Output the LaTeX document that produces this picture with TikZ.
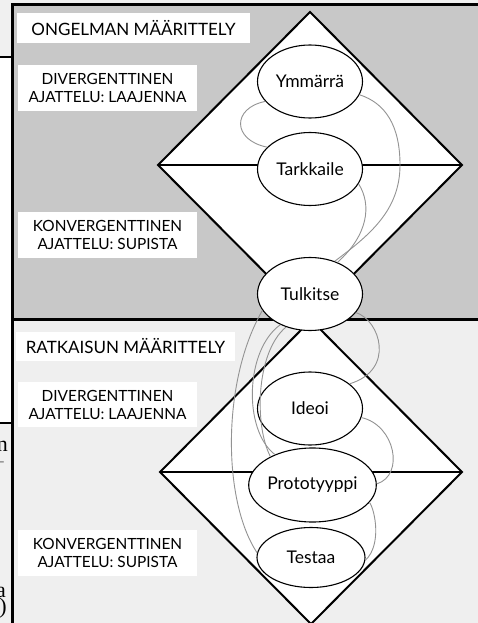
\documentclass[tikz,border=0pt]{standalone}
\usepackage{fontspec}
\setmainfont{Lato}
\newfontfamily\pageserif{Liberation Serif}
\usetikzlibrary{shapes.geometric}

\definecolor{upperpanel}{HTML}{C8C8C8}
\definecolor{lowerpanel}{HTML}{EFEFEF}
\definecolor{sheet}{HTML}{F0F0F0}
\definecolor{loopline}{HTML}{939393}

\begin{document}
\begin{tikzpicture}[x=1pt,y=-1pt,
  stage/.style={ellipse, draw=black, line width=1.1pt, fill=white,
    minimum width=105pt, minimum height=73pt, inner sep=0pt,
    font=\fontsize{17.5}{19}\selectfont},
  tagbox/.style={fill=white, inner sep=0pt, align=center,
    font=\fontsize{15.4}{18}\selectfont},
  headbox/.style={fill=white, inner sep=0pt, align=center,
    font=\fontsize{17}{19}\selectfont},
  loop/.style={draw=loopline, line width=0.9pt},
  diamondedge/.style={draw=black, line width=2pt, line join=miter},
  frameline/.style={draw=black, line width=3pt},
  sideline/.style={draw=black, line width=2pt},
  pagetext/.style={anchor=base east, inner sep=0pt,
    font=\pageserif\fontsize{22}{24}\selectfont}]

\useasboundingbox (0,0) rectangle (478,623);

% page background and the two phase panels
\fill[sheet] (0,0) rectangle (478,623);
\fill[white] (0,57) rectangle (12,423);
\fill[upperpanel] (12,5) rectangle (478,319);
\fill[lowerpanel] (12,319) rectangle (478,623);

% edge of the neighbouring column
\draw[sideline] (0,57) -- (12,57);
\draw[sideline] (0,423) -- (12,423);
\begin{scope}
  \clip (0,425) rectangle (11,623);
  \node[pagetext] (pn) at (8,451) {n};
  \node[pagetext, text=black!40] (ph) at (5,467) {-};
  \node[pagetext] (pa) at (6,597) {a};
  \node[pagetext] (pp) at (7,613) {)};
\end{scope}

% diamonds: diverge above the middle line, converge below it
\draw[diamondedge, fill=white] (310,12) -- (462,165) -- (310,318) -- (158,165) -- cycle;
\draw[diamondedge] (158,165) -- (462,165);
\draw[diamondedge, fill=white] (311,320) -- (462,472) -- (311,624) -- (160,472) -- cycle;
\draw[diamondedge] (160,472) -- (462,472);

% panel frame
\draw[frameline] (478,5) -- (12,5) -- (12,623);
\draw[frameline] (12,319) -- (478,319);

% phase and mode labels
\node[headbox, minimum width=233pt, minimum height=30pt] (probhead) at (133.5,28) {ONGELMAN MÄÄRITTELY};
\node[tagbox, minimum width=179pt, minimum height=46pt] (div1) at (107.5,88) {DIVERGENTTINEN\\AJATTELU: LAAJENNA};
\node[tagbox, minimum width=179pt, minimum height=46pt] (conv1) at (107.5,235) {KONVERGENTTINEN\\AJATTELU: SUPISTA};
\node[headbox, minimum width=219pt, minimum height=29pt] (solhead) at (125.5,346.5) {RATKAISUN MÄÄRITTELY};
\node[tagbox, minimum width=179pt, minimum height=45pt] (div2) at (107.5,404.5) {DIVERGENTTINEN\\AJATTELU: LAAJENNA};
\node[tagbox, minimum width=179pt, minimum height=46pt] (conv2) at (107.5,553) {KONVERGENTTINEN\\AJATTELU: SUPISTA};

% stages
\node[stage] (ymm) at (310,81.5) {Ymmärrä};
\node[stage] (tark) at (310,169) {Tarkkaile};
\node[stage] (tulk) at (310,294) {Tulkitse};
\node[stage] (ideo) at (310,408.5) {Ideoi};
\node[stage, minimum width=107pt, minimum height=74pt] (proto) at (312.5,485) {Prototyyppi};
\node[stage, minimum width=108pt, minimum height=60pt] (test) at (311,557.5) {Testaa};

% iteration loops between stages
\draw[loop] (ymm.204) .. controls (232,108) and (232,140) .. (tark.153);
\draw[loop] (ymm.345) .. controls (385,103) and (400,125) .. (400,165)
            .. controls (400,210) and (370,235) .. (tulk.53);
\draw[loop] (tark.343) .. controls (372,205) and (368,235) .. (tulk.49);
\draw[loop] (tulk.199) .. controls (222,380) and (222,500) .. (test.175);
\draw[loop] (tulk.226) .. controls (245,350) and (243,430) .. (proto.141);
\draw[loop] (tulk.234) .. controls (256,352) and (254,425) .. (proto.146);
\draw[loop] (tulk.338) .. controls (380,320) and (396,370) .. (ideo.32);
\draw[loop] (ideo.350) .. controls (395,425) and (405,475) .. (proto.1);
\draw[loop] (proto.343) .. controls (375,510) and (382,545) .. (test.357);
\end{tikzpicture}
\end{document}
